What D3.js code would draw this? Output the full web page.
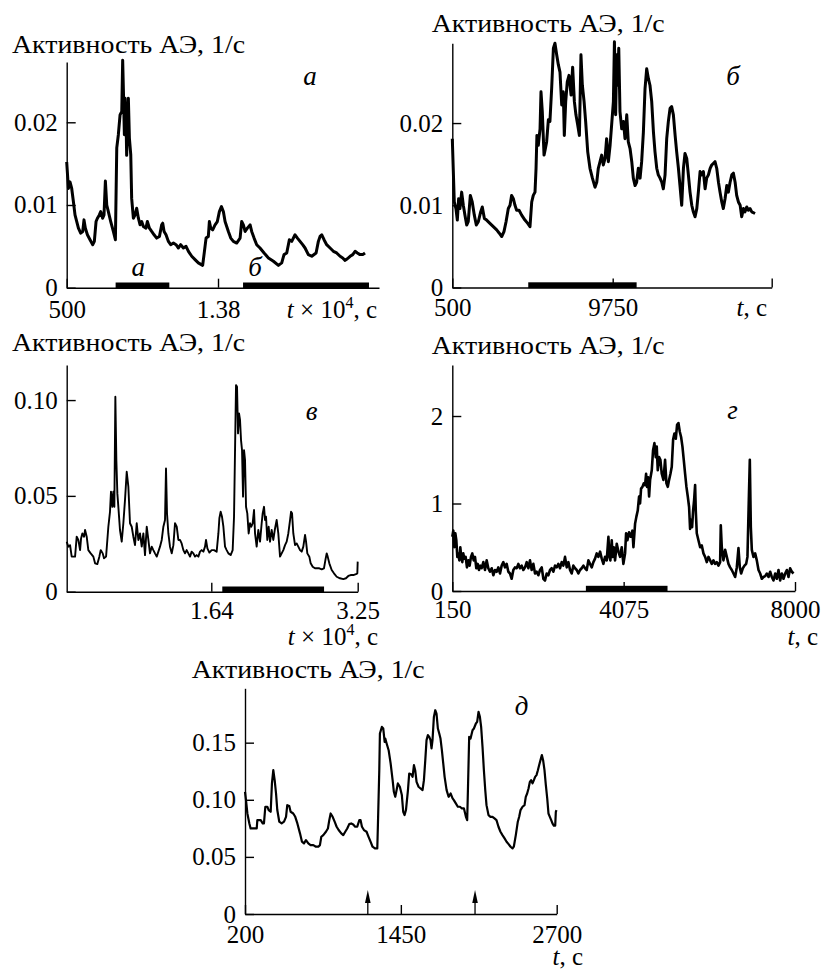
<!DOCTYPE html>
<html><head><meta charset="utf-8">
<script src="https://cdn.jsdelivr.net/npm/d3@7"></script>
<style>
body{margin:0;background:#fff}
svg{display:block}
text{font-family:"Liberation Serif","Times New Roman",serif;fill:#000}
</style>
</head><body>
<svg id="chart" width="824" height="970"></svg>
<script>
const yTitle = "Активность АЭ, 1/с";

// Panel а: t (s), activity (1/s)
const seriesA = [[500,0.0152],[650,0.0120],[790,0.0128],[940,0.0120],[1090,0.0104],[1230,0.0088],[1530,0.0072],[1730,0.0066],[1910,0.0068],[2020,0.0082],[2140,0.0072],[2320,0.0064],[2550,0.0058],[2790,0.0052],[2930,0.0056],[3080,0.0080],[3200,0.0084],[3370,0.0088],[3490,0.0092],[3660,0.0084],[3780,0.0088],[3900,0.0129],[4020,0.0100],[4160,0.0092],[4370,0.0080],[4600,0.0068],[4780,0.0058],[4900,0.0169],[5040,0.0185],[5190,0.0209],[5340,0.0213],[5420,0.0275],[5480,0.0241],[5570,0.0185],[5630,0.0229],[5720,0.0201],[5770,0.0160],[5920,0.0229],[6010,0.0181],[6130,0.0161],[6210,0.0108],[6360,0.0084],[6510,0.0088],[6650,0.0096],[6800,0.0084],[6950,0.0076],[7090,0.0080],[7240,0.0074],[7470,0.0072],[7590,0.0080],[7770,0.0072],[7970,0.0068],[8180,0.0064],[8410,0.0060],[8650,0.0062],[8850,0.0076],[8940,0.0078],[9060,0.0068],[9230,0.0064],[9440,0.0056],[9640,0.0052],[9880,0.0054],[10110,0.0052],[10320,0.0048],[10520,0.0052],[10760,0.0048],[10990,0.0050],[11200,0.0044],[11490,0.0038],[11780,0.0034],[12070,0.0030],[12450,0.0027],[12570,0.0040],[12750,0.0060],[12950,0.0062],[13040,0.0080],[13160,0.0072],[13330,0.0070],[13540,0.0076],[13740,0.0080],[13920,0.0092],[14100,0.0098],[14270,0.0092],[14420,0.0080],[14710,0.0068],[14920,0.0060],[15150,0.0056],[15440,0.0054],[15740,0.0060],[15880,0.0080],[16030,0.0076],[16180,0.0068],[16380,0.0072],[16620,0.0076],[16760,0.0068],[16970,0.0060],[17200,0.0052],[17490,0.0048],[17850,0.0042],[18230,0.0036],[18670,0.0032],[19110,0.0027],[19400,0.0030],[19600,0.0040],[19840,0.0042],[20070,0.0058],[20280,0.0056],[20570,0.0064],[20780,0.0060],[21010,0.0056],[21240,0.0052],[21450,0.0048],[21740,0.0040],[22040,0.0038],[22420,0.0042],[22620,0.0056],[22770,0.0062],[22920,0.0064],[23120,0.0058],[23350,0.0052],[23650,0.0048],[23940,0.0044],[24230,0.0042],[24530,0.0038],[24760,0.0036],[24970,0.0033],[25170,0.0035],[25410,0.0038],[25640,0.0040],[25850,0.0044],[26050,0.0042],[26280,0.0040],[26520,0.0040],[26720,0.0042]];

// Panel б
const seriesB = [[500,0.0181],[615,0.0104],[710,0.0096],[790,0.0082],[865,0.0108],[940,0.0096],[1040,0.0116],[1135,0.0100],[1230,0.0088],[1330,0.0076],[1420,0.0080],[1540,0.0112],[1650,0.0104],[1770,0.0088],[1885,0.0076],[2000,0.0080],[2135,0.0092],[2230,0.0098],[2350,0.0084],[2480,0.0082],[2670,0.0078],[2865,0.0074],[3060,0.0070],[3210,0.0066],[3350,0.0062],[3480,0.0068],[3600,0.0080],[3730,0.0096],[3830,0.0100],[3920,0.0112],[4020,0.0108],[4115,0.0100],[4210,0.0094],[4350,0.0094],[4500,0.0088],[4690,0.0082],[4850,0.0078],[4980,0.0074],[5080,0.0104],[5170,0.0112],[5270,0.0116],[5330,0.0145],[5380,0.0185],[5460,0.0173],[5560,0.0193],[5615,0.0238],[5690,0.0214],[5790,0.0161],[5850,0.0167],[5940,0.0177],[6040,0.0204],[6130,0.0202],[6230,0.0242],[6330,0.0291],[6420,0.0297],[6520,0.0283],[6615,0.0271],[6710,0.0262],[6810,0.0222],[6900,0.0238],[6960,0.0185],[7040,0.0226],[7130,0.0250],[7230,0.0258],[7350,0.0234],[7440,0.0268],[7540,0.0226],[7630,0.0210],[7730,0.0198],[7830,0.0185],[7920,0.0283],[8000,0.0246],[8100,0.0226],[8190,0.0202],[8310,0.0165],[8440,0.0145],[8580,0.0133],[8730,0.0122],[8830,0.0128],[8920,0.0145],[9020,0.0153],[9115,0.0161],[9210,0.0149],[9310,0.0157],[9400,0.0181],[9500,0.0153],[9600,0.0173],[9690,0.0198],[9790,0.0226],[9850,0.0299],[9920,0.0210],[9980,0.0283],[10040,0.0246],[10100,0.0291],[10170,0.0214],[10270,0.0193],[10370,0.0202],[10460,0.0181],[10560,0.0210],[10650,0.0177],[10750,0.0169],[10850,0.0153],[10940,0.0133],[11040,0.0124],[11130,0.0128],[11230,0.0145],[11330,0.0133],[11420,0.0153],[11520,0.0189],[11615,0.0242],[11710,0.0266],[11810,0.0254],[11900,0.0246],[12000,0.0226],[12100,0.0189],[12190,0.0165],[12290,0.0145],[12380,0.0137],[12480,0.0133],[12580,0.0128],[12670,0.0120],[12770,0.0137],[12865,0.0181],[12960,0.0202],[13060,0.0218],[13150,0.0220],[13250,0.0210],[13350,0.0185],[13440,0.0165],[13540,0.0145],[13630,0.0124],[13730,0.0100],[13830,0.0145],[13920,0.0163],[14020,0.0157],[14115,0.0137],[14210,0.0116],[14310,0.0100],[14400,0.0092],[14500,0.0086],[14600,0.0096],[14690,0.0116],[14790,0.0141],[14880,0.0137],[14980,0.0141],[15080,0.0120],[15170,0.0133],[15270,0.0137],[15370,0.0145],[15460,0.0149],[15560,0.0151],[15650,0.0153],[15750,0.0145],[15850,0.0128],[15940,0.0116],[16040,0.0104],[16130,0.0096],[16230,0.0108],[16330,0.0124],[16420,0.0116],[16520,0.0128],[16620,0.0137],[16710,0.0139],[16810,0.0128],[16900,0.0112],[17000,0.0104],[17100,0.0100],[17190,0.0086],[17290,0.0096],[17380,0.0092],[17480,0.0098],[17580,0.0094],[17670,0.0096],[17770,0.0092],[17960,0.0090]];

// Panel в
const seriesV = [[500,0.0261],[680,0.0235],[870,0.0243],[1050,0.0183],[1420,0.0183],[1600,0.0287],[1780,0.0270],[1970,0.0217],[2080,0.0278],[2220,0.0304],[2410,0.0287],[2520,0.0322],[2700,0.0287],[2880,0.0217],[3140,0.0200],[3430,0.0183],[3620,0.0148],[3870,0.0144],[4090,0.0183],[4240,0.0217],[4460,0.0200],[4600,0.0174],[4830,0.0183],[5080,0.0339],[5260,0.0417],[5370,0.0522],[5520,0.0443],[5630,0.0522],[5740,0.0443],[5850,0.1017],[5960,0.0687],[6070,0.0513],[6180,0.0443],[6360,0.0322],[6550,0.0261],[6730,0.0357],[6910,0.0478],[7100,0.0626],[7280,0.0548],[7460,0.0357],[7650,0.0339],[7830,0.0287],[8010,0.0243],[8200,0.0357],[8380,0.0270],[8560,0.0304],[8750,0.0235],[8930,0.0304],[9110,0.0191],[9300,0.0339],[9480,0.0270],[9660,0.0200],[9850,0.0235],[10030,0.0217],[10210,0.0200],[10400,0.0183],[10580,0.0209],[10760,0.0235],[10950,0.0270],[11130,0.0339],[11310,0.0374],[11420,0.0643],[11530,0.0409],[11680,0.0304],[11860,0.0235],[12050,0.0200],[12230,0.0243],[12410,0.0357],[12600,0.0339],[12780,0.0270],[12960,0.0270],[13140,0.0252],[13330,0.0217],[13510,0.0200],[13690,0.0217],[13880,0.0200],[14060,0.0183],[14240,0.0209],[14430,0.0200],[14610,0.0183],[14790,0.0191],[14980,0.0183],[15160,0.0209],[15340,0.0217],[15530,0.0209],[15710,0.0235],[15820,0.0270],[15970,0.0226],[16190,0.0204],[16440,0.0217],[16700,0.0217],[16990,0.0209],[17180,0.0304],[17290,0.0383],[17430,0.0417],[17580,0.0391],[17730,0.0339],[17910,0.0235],[18090,0.0217],[18280,0.0200],[18530,0.0191],[18750,0.0217],[18900,0.0391],[19050,0.0861],[19120,0.1078],[19230,0.1070],[19340,0.0826],[19450,0.0930],[19560,0.0896],[19670,0.0791],[19780,0.0739],[19890,0.0496],[20000,0.0739],[20110,0.0687],[20220,0.0443],[20360,0.0409],[20510,0.0304],[20660,0.0357],[20800,0.0339],[20950,0.0357],[21100,0.0426],[21210,0.0304],[21390,0.0235],[21570,0.0322],[21760,0.0261],[21940,0.0357],[22050,0.0409],[22200,0.0443],[22310,0.0374],[22420,0.0391],[22560,0.0270],[22710,0.0339],[22860,0.0261],[23040,0.0322],[23220,0.0270],[23410,0.0330],[23590,0.0374],[23770,0.0304],[23960,0.0183],[24140,0.0200],[24320,0.0217],[24510,0.0243],[24690,0.0261],[24870,0.0304],[25060,0.0374],[25170,0.0417],[25280,0.0409],[25420,0.0304],[25610,0.0243],[25790,0.0252],[25970,0.0235],[26160,0.0217],[26340,0.0209],[26520,0.0235],[26710,0.0296],[26820,0.0261],[26960,0.0200],[27180,0.0183],[27330,0.0148],[27550,0.0130],[27800,0.0122],[28060,0.0122],[28280,0.0122],[28540,0.0117],[28790,0.0122],[28980,0.0174],[29090,0.0200],[29200,0.0183],[29380,0.0148],[29640,0.0113],[29890,0.0096],[30190,0.0078],[30550,0.0070],[30920,0.0066],[31210,0.0070],[31470,0.0082],[31730,0.0087],[32020,0.0087],[32310,0.0092],[32460,0.0096],[32500,0.0157]];

// Panel г
const seriesG = [[150,0.62],[173,0.69],[196,0.50],[219,0.66],[242,0.58],[265,0.39],[288,0.43],[311,0.35],[333,0.50],[356,0.39],[379,0.33],[402,0.43],[425,0.37],[456,0.39],[486,0.27],[517,0.35],[547,0.29],[578,0.39],[608,0.43],[639,0.35],[670,0.39],[700,0.26],[731,0.31],[761,0.24],[792,0.29],[822,0.26],[861,0.33],[899,0.24],[937,0.35],[975,0.26],[1013,0.22],[1052,0.26],[1090,0.18],[1128,0.24],[1166,0.22],[1204,0.27],[1243,0.20],[1281,0.29],[1319,0.33],[1357,0.27],[1395,0.31],[1434,0.22],[1472,0.20],[1510,0.14],[1548,0.24],[1586,0.27],[1625,0.26],[1663,0.31],[1701,0.26],[1739,0.29],[1777,0.24],[1816,0.27],[1854,0.33],[1892,0.26],[1930,0.35],[1968,0.24],[2007,0.31],[2045,0.20],[2083,0.22],[2121,0.18],[2159,0.24],[2198,0.27],[2236,0.14],[2274,0.12],[2312,0.20],[2350,0.18],[2389,0.24],[2427,0.26],[2465,0.22],[2503,0.29],[2541,0.27],[2580,0.31],[2618,0.26],[2656,0.33],[2694,0.29],[2732,0.39],[2771,0.27],[2809,0.33],[2847,0.24],[2885,0.20],[2923,0.29],[2962,0.26],[3000,0.24],[3038,0.20],[3076,0.24],[3114,0.26],[3153,0.29],[3191,0.26],[3229,0.24],[3267,0.35],[3305,0.31],[3344,0.27],[3382,0.33],[3420,0.37],[3458,0.43],[3496,0.39],[3535,0.45],[3573,0.37],[3611,0.31],[3649,0.39],[3687,0.35],[3726,0.62],[3749,0.39],[3771,0.35],[3802,0.58],[3825,0.39],[3848,0.50],[3878,0.35],[3917,0.54],[3955,0.45],[3993,0.39],[4031,0.50],[4069,0.31],[4108,0.43],[4131,0.66],[4161,0.58],[4199,0.67],[4237,0.62],[4276,0.69],[4299,0.50],[4337,0.77],[4367,0.85],[4398,0.92],[4428,1.08],[4451,1.00],[4474,1.17],[4505,1.19],[4535,1.23],[4566,1.21],[4589,1.34],[4612,1.19],[4635,1.30],[4658,1.08],[4681,1.27],[4719,1.38],[4749,1.61],[4780,1.69],[4810,1.53],[4833,1.65],[4856,1.38],[4887,1.53],[4917,1.50],[4948,1.34],[4986,1.27],[5024,1.50],[5055,1.23],[5086,1.19],[5116,1.27],[5147,1.34],[5177,1.42],[5208,1.73],[5238,1.80],[5269,1.74],[5299,1.90],[5330,1.92],[5361,1.82],[5391,1.76],[5422,1.65],[5452,1.50],[5483,1.34],[5513,1.19],[5544,1.08],[5574,0.96],[5597,0.71],[5620,0.81],[5643,0.73],[5666,0.92],[5689,1.04],[5712,1.21],[5727,0.92],[5750,0.66],[5788,0.58],[5827,0.50],[5865,0.52],[5903,0.43],[5941,0.39],[5979,0.33],[6018,0.39],[6056,0.35],[6094,0.31],[6132,0.35],[6170,0.31],[6209,0.33],[6247,0.29],[6285,0.33],[6300,0.75],[6323,0.50],[6361,0.35],[6400,0.47],[6438,0.39],[6476,0.31],[6514,0.27],[6552,0.24],[6591,0.20],[6629,0.16],[6667,0.27],[6705,0.49],[6736,0.27],[6766,0.20],[6805,0.26],[6843,0.29],[6881,0.31],[6911,0.39],[6942,1.04],[6965,1.50],[6988,0.73],[7011,0.47],[7049,0.39],[7087,0.43],[7125,0.35],[7164,0.24],[7202,0.20],[7240,0.14],[7278,0.16],[7316,0.17],[7355,0.20],[7393,0.16],[7431,0.22],[7469,0.16],[7507,0.12],[7546,0.20],[7584,0.14],[7622,0.24],[7660,0.12],[7698,0.20],[7737,0.14],[7775,0.20],[7813,0.24],[7851,0.16],[7889,0.26],[7928,0.22],[7966,0.20]];

// Panel д
const seriesD = [[200,0.1070],[208,0.0997],[219,0.0880],[235,0.0793],[245,0.0749],[267,0.0749],[294,0.0749],[299,0.0822],[326,0.0822],[342,0.0793],[352,0.0793],[363,0.0939],[379,0.0939],[390,0.0910],[406,0.0895],[416,0.1143],[427,0.1259],[438,0.1172],[449,0.1055],[459,0.0910],[475,0.0808],[494,0.0793],[513,0.0808],[529,0.0851],[539,0.0953],[555,0.0945],[566,0.0895],[587,0.0880],[603,0.0851],[620,0.0793],[641,0.0706],[657,0.0633],[673,0.0618],[689,0.0647],[708,0.0618],[726,0.0603],[748,0.0603],[769,0.0589],[788,0.0589],[801,0.0603],[812,0.0676],[828,0.0691],[849,0.0720],[865,0.0749],[876,0.0822],[887,0.0880],[903,0.0851],[919,0.0808],[935,0.0764],[951,0.0735],[972,0.0706],[988,0.0691],[1004,0.0720],[1020,0.0749],[1036,0.0787],[1052,0.0793],[1068,0.0784],[1084,0.0764],[1100,0.0764],[1117,0.0822],[1127,0.0822],[1138,0.0764],[1154,0.0735],[1175,0.0720],[1191,0.0676],[1207,0.0633],[1223,0.0589],[1242,0.0574],[1261,0.0574],[1266,0.0778],[1277,0.1259],[1282,0.1580],[1298,0.1638],[1309,0.1624],[1320,0.1507],[1325,0.1536],[1336,0.1493],[1352,0.1434],[1368,0.1318],[1384,0.1172],[1394,0.1070],[1405,0.1026],[1416,0.1085],[1426,0.1143],[1442,0.1114],[1458,0.1041],[1469,0.0895],[1480,0.0866],[1491,0.0910],[1507,0.1085],[1517,0.1230],[1533,0.1224],[1544,0.1201],[1555,0.1303],[1565,0.1259],[1576,0.1157],[1592,0.1114],[1608,0.1099],[1624,0.1085],[1635,0.1172],[1646,0.1347],[1656,0.1522],[1667,0.1566],[1678,0.1551],[1688,0.1522],[1696,0.1449],[1704,0.1522],[1715,0.1726],[1726,0.1784],[1736,0.1755],[1747,0.1624],[1758,0.1580],[1768,0.1536],[1779,0.1434],[1790,0.1318],[1801,0.1201],[1817,0.1085],[1833,0.1026],[1849,0.1055],[1865,0.1012],[1875,0.0997],[1891,0.0968],[1907,0.0939],[1924,0.0939],[1940,0.0924],[1956,0.0924],[1972,0.0851],[1982,0.0822],[1988,0.1085],[1998,0.1551],[2009,0.1536],[2025,0.1609],[2036,0.1624],[2052,0.1668],[2062,0.1682],[2073,0.1770],[2084,0.1726],[2094,0.1638],[2105,0.1464],[2116,0.1259],[2127,0.1085],[2137,0.0953],[2153,0.0866],[2169,0.0851],[2185,0.0851],[2201,0.0837],[2217,0.0822],[2233,0.0764],[2249,0.0720],[2265,0.0691],[2282,0.0662],[2298,0.0633],[2314,0.0612],[2330,0.0589],[2346,0.0574],[2356,0.0589],[2372,0.0691],[2388,0.0808],[2399,0.0851],[2410,0.0910],[2426,0.0939],[2442,0.0953],[2452,0.1026],[2463,0.1055],[2474,0.1099],[2485,0.1157],[2495,0.1172],[2506,0.1143],[2517,0.1172],[2527,0.1201],[2538,0.1216],[2549,0.1259],[2559,0.1303],[2570,0.1347],[2581,0.1391],[2591,0.1347],[2602,0.1259],[2613,0.1128],[2624,0.1012],[2634,0.0880],[2645,0.0851],[2656,0.0822],[2666,0.0793],[2677,0.0773],[2688,0.0773],[2693,0.0895],[2698,0.0910]];

// Marked time intervals (start, end, label, label time) and arrows
const barsA = [[4800, 9520, "а", 6790], [16000, 27070, "б", 17050]];
const barsB = [[4880, 11130, "", 0]];
const barsV = [[17610, 28800, "", 0]];
const barsG = [[3210, 5080, "", 0]];
const arrowsD = [1185, 2045];

// Axis ticks and labels
const xTicksA = [500, 13800], xLabelsA = ["500", "1.38"];
const xTicksB = [500, 9750, 18920], xLabelsB = ["500", "9750", ""];
const xTicksV = [16400, 32500], xLabelsV = ["1.64", "3.25"];
const xTicksG = [150, 4075, 8000], xLabelsG = ["150", "4075", "8000"];
const xTicksD = [200, 1450, 2700], xLabelsD = ["200", "1450", "2700"];
const yTicksA = [0, 0.01, 0.02], yLabelsA = ["0", "0.01", "0.02"];
const yTicksB = [0, 0.01, 0.02], yLabelsB = ["0", "0.01", "0.02"];
const yTicksV = [0, 0.05, 0.10], yLabelsV = ["0", "0.05", "0.10"];
const yTicksG = [0, 1, 2], yLabelsG = ["0", "1", "2"];
const yTicksD = [0, 0.05, 0.10, 0.15], yLabelsD = ["0", "0.05", "0.10", "0.15"];
const panelLetters = ["а", "б", "в", "г", "д"];

const svg = d3.select("#chart");

const layout = [
  {data: seriesA, xd:[500,27950], yd:[0,0.02729], x0:66.7, x1:379, yb:287.7, yt:62,
   xt:xTicksA, xl:xLabelsA, yt2:yTicksA, yl:yLabelsA, bars:barsA, lw:3.0,
   title:[12,53], letter:[310,85], xpad:12.3, unit:"x10", unitPos:[377,318]},
  {data: seriesB, xd:[500,18920], yd:[0,0.0297], x0:452.3, x1:771.7, yb:287.5, yt:43.3,
   xt:xTicksB, xl:xLabelsB, yt2:yTicksB, yl:yLabelsB, bars:barsB, lw:3.0,
   title:[431.7,32], letter:[733,85], xpad:10.5, unit:"t", unitPos:[767,316]},
  {data: seriesV, xd:[500,32500], yd:[0,0.1183], x0:66.7, x1:357.7, yb:591.7, yt:365,
   xt:xTicksV, xl:xLabelsV, yt2:yTicksV, yl:yLabelsV, bars:barsV, lw:1.9,
   title:[12,351], letter:[311.7,420], xpad:9.5, unit:"x10", unitPos:[378,645]},
  {data: seriesG, xd:[150,8000], yd:[0,2.583], x0:452.3, x1:795, yb:591, yt:365,
   xt:xTicksG, xl:xLabelsG, yt2:yTicksG, yl:yLabelsG, bars:barsG, lw:2.6,
   title:[431.7,354], letter:[732.5,419], xpad:9.3, unit:"t", unitPos:[818,645]},
  {data: seriesD, xd:[200,2700], yd:[0,0.1976], x0:245, x1:556.7, yb:914, yt:688.3,
   xt:xTicksD, xl:xLabelsD, yt2:yTicksD, yl:yLabelsD, bars:[], lw:2.2, arrows:arrowsD,
   title:[191.7,678], letter:[521.7,715], xpad:11.3, unit:"t", unitPos:[583,965]}
];

layout.forEach((p, i) => {
  const x = d3.scaleLinear().domain(p.xd).range([p.x0, p.x1]);
  const y = d3.scaleLinear().domain(p.yd).range([p.yb, p.yt]);
  const g = svg.append("g");

  // axes
  const xa = d3.axisBottom(x).tickValues(p.xt).tickFormat((d, k) => p.xl[k])
    .tickSizeInner(-9).tickSizeOuter(0).tickPadding(p.xpad);
  const ya = d3.axisLeft(y).tickValues(p.yt2).tickFormat((d, k) => p.yl[k])
    .tickSizeInner(-9).tickSizeOuter(0).tickPadding(9);
  const gx = g.append("g").attr("transform", `translate(0,${p.yb})`).call(xa);
  const gy = g.append("g").attr("transform", `translate(${p.x0},0)`).call(ya);
  [gx, gy].forEach(a => {
    a.selectAll("path,line").attr("stroke", "#000").attr("stroke-width", 1.4);
    a.selectAll("text").attr("font-size", 25)
      .attr("font-family", '"Liberation Serif","Times New Roman",serif').attr("fill", "#000");
  });

  // interval bars
  p.bars.forEach(b => {
    g.append("rect").attr("x", x(b[0])).attr("width", x(b[1]) - x(b[0]))
      .attr("y", p.yb - 5.2).attr("height", 5.8).attr("fill", "#000");
    if (b[2]) {
      g.append("text").attr("x", x(b[3])).attr("y", p.yb - 12)
        .attr("text-anchor", "middle").attr("font-style", "italic").attr("font-size", 27).text(b[2]);
    }
  });

  // arrows
  (p.arrows || []).forEach(t => {
    const ax = x(t);
    g.append("line").attr("x1", ax).attr("x2", ax).attr("y1", p.yb).attr("y2", p.yb - 18)
      .attr("stroke", "#000").attr("stroke-width", 1.3);
    g.append("path").attr("d", `M${ax},${p.yb - 24}L${ax - 2.8},${p.yb - 11}L${ax + 2.8},${p.yb - 11}Z`)
      .attr("fill", "#000");
  });

  // curve
  const line = d3.line().x(d => x(d[0])).y(d => y(d[1]));
  g.append("path").datum(p.data).attr("d", line).attr("fill", "none")
    .attr("stroke", "#000").attr("stroke-width", p.lw).attr("stroke-linejoin", "round");

  // y title
  g.append("text").attr("x", p.title[0]).attr("y", p.title[1]).attr("font-size", 25)
    .attr("textLength", 233).attr("lengthAdjust", "spacingAndGlyphs").text(yTitle);

  // panel letter
  g.append("text").attr("x", p.letter[0]).attr("y", p.letter[1]).attr("text-anchor", "middle")
    .attr("font-style", "italic").attr("font-size", 27).text(panelLetters[i]);

  // x unit label
  const u = g.append("text").attr("x", p.unitPos[0]).attr("y", p.unitPos[1])
    .attr("text-anchor", "end").attr("font-size", 25);
  u.append("tspan").attr("font-style", "italic").text("t");
  if (p.unit === "x10") {
    u.append("tspan").text(" × 10");
    u.append("tspan").attr("font-size", 16).attr("dy", -10).text("4");
    u.append("tspan").attr("dy", 10).text(", с");
  } else {
    u.append("tspan").text(", с");
  }
});
</script>
</body></html>
